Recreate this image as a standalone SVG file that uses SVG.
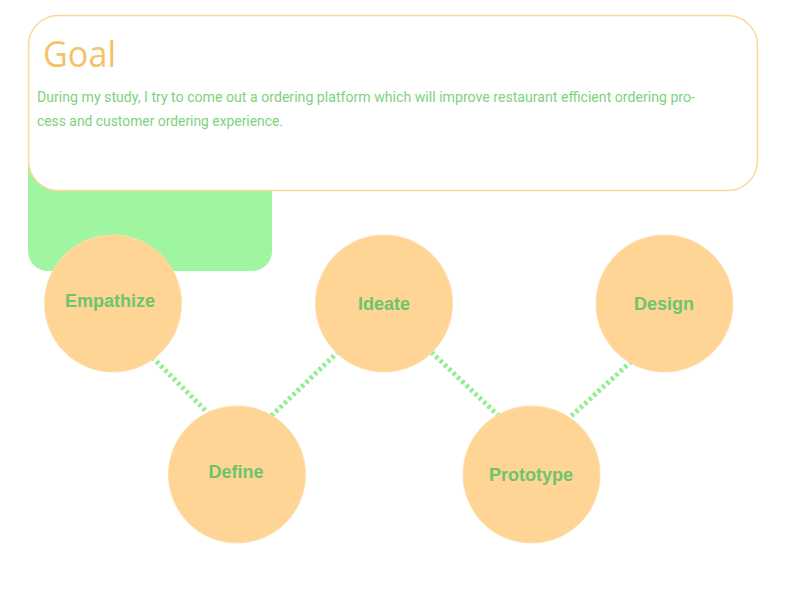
<svg xmlns="http://www.w3.org/2000/svg" width="800" height="600" viewBox="0 0 800 600">
  <style>
    .node circle { fill: #FFD595; stroke: #FFDFAE; stroke-width: 1; }
    .node text { font-family: "Liberation Sans", Arial, sans-serif; font-weight: bold; font-size: 18px; fill: #6CC46C; text-anchor: middle; }
    .conn line { stroke: #90EE90; stroke-width: 5; stroke-dasharray: 3 3; }
  </style>
  <rect width="800" height="600" fill="#FFFFFF"/>
  <g id="accent">
    <rect x="28" y="140" width="244" height="131" rx="20" ry="20" fill="#A0F5A0"/>
  </g>
  <g id="goal">
    <rect x="28.5" y="15.5" width="729" height="175" rx="30" ry="30" fill="#FFFFFF" stroke="#FFD898" stroke-width="1.5"/>
    <text x="43" y="67" font-family="'Open Sans', 'Liberation Sans', sans-serif" font-weight="normal" font-size="36" fill="#F5C26B" textLength="73" lengthAdjust="spacingAndGlyphs">Goal</text>
    <text x="37" y="102" font-family="Roboto, 'Liberation Sans', sans-serif" font-weight="normal" font-size="14" fill="#7DD27D" textLength="658" lengthAdjust="spacingAndGlyphs">During my study, I try to come out a ordering platform which will improve restaurant efficient ordering pro-</text>
    <text x="37" y="126" font-family="Roboto, 'Liberation Sans', sans-serif" font-weight="normal" font-size="14" fill="#7DD27D" textLength="246" lengthAdjust="spacingAndGlyphs">cess and customer ordering experience.</text>
  </g>
  <g id="connectors" class="conn">
    <line x1="148" y1="353" x2="213" y2="418"/>
    <line x1="267" y1="420" x2="342" y2="348"/>
    <line x1="427" y1="348" x2="503" y2="420"/>
    <line x1="567" y1="420" x2="636" y2="357"/>
  </g>
  <g id="empathize" class="node">
    <circle cx="113" cy="303.5" r="68.5"/>
    <text x="110" y="307">Empathize</text>
  </g>
  <g id="define" class="node">
    <circle cx="237" cy="474.5" r="68.5"/>
    <text x="236" y="478">Define</text>
  </g>
  <g id="ideate" class="node">
    <circle cx="384" cy="303.5" r="68.5"/>
    <text x="384" y="310">Ideate</text>
  </g>
  <g id="prototype" class="node">
    <circle cx="531.5" cy="474.5" r="68.5"/>
    <text x="531" y="481">Prototype</text>
  </g>
  <g id="design" class="node">
    <circle cx="664.5" cy="303.5" r="68.5"/>
    <text x="664" y="310">Design</text>
  </g>
</svg>
